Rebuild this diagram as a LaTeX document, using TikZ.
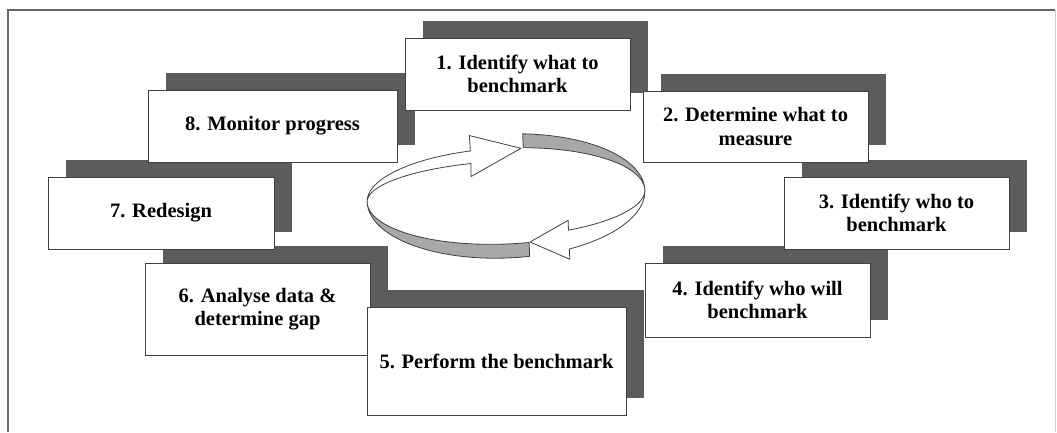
\documentclass[tikz,border=0pt]{standalone}
\usepackage{fontspec}
\setmainfont{Liberation Serif}
\usetikzlibrary{shadows}
\definecolor{shadowgray}{gray}{0.36}
\definecolor{bandgray}{gray}{0.66}
\definecolor{linegray}{gray}{0.25}
\begin{document}
\begin{tikzpicture}[x=1pt,y=-1pt,
  stepbox/.style={draw=linegray, line width=0.9pt, fill=white, align=center,
    inner sep=0pt, font=\fontsize{20.5}{23.5}\selectfont\bfseries,
    drop shadow={shadow xshift=18pt, shadow yshift=17pt, fill=shadowgray, opacity=1}},
  ringwhite/.style={draw=linegray, line width=0.8pt, line join=round, fill=white},
  ringgray/.style={draw=linegray, line width=0.8pt, line join=round, fill=bandgray}]
\useasboundingbox (0,0) rectangle (1057,432);
% frame
\draw[black!60, line width=1.3pt] (8,432) -- (8,10) -- (1055,10);
\draw[black!20, line width=1pt] (1055,10) -- (1055,432);
% boxes
\node[stepbox, minimum width=225pt, minimum height=92pt] (s6) at (257.5,309) {6. Analyse data \&\\determine gap};
\node[stepbox, minimum width=259pt, minimum height=108pt] (s5) at (496.5,361) {5. Perform the benchmark};
\node[stepbox, minimum width=226pt, minimum height=72pt] (s7) at (161,213) {7. Redesign};
\node[stepbox, minimum width=249pt, minimum height=72pt] (s8) at (272.5,126) {8. Monitor progress};
\node[stepbox, minimum width=225pt, minimum height=72pt] (s1) at (517.5,74) {1. Identify what to\\benchmark};
\node[stepbox, minimum width=225pt, minimum height=74pt] (s4) at (757.5,300) {4. Identify who will\\benchmark};
\node[stepbox, minimum width=225pt, minimum height=72pt] (s3) at (896.5,213) {3. Identify who to\\benchmark};
\node[stepbox, minimum width=225pt, minimum height=71pt] (s2) at (755.5,126.5) {2. Determine what to\\measure};
% cycle ring
\begin{scope}[shift={(506,196)}, rotate=2.5]
  \filldraw[ringwhite] (-139,0)
    -- plot[domain=180:256, samples=40] ({139*cos(\x)},{48*sin(\x)})
    -- (-34,-62) -- (17,-47) -- (-34,-21)
    -- plot[domain=256:180, samples=40] ({139*cos(\x)},{35*sin(\x)}) -- cycle;
  \filldraw[ringgray]
    plot[domain=278:360, samples=40] ({139*cos(\x)},{62*sin(\x)})
    -- plot[domain=360:278, samples=40] ({139*cos(\x)},{48*sin(\x)}) -- cycle;
  \filldraw[ringwhite] (139,0)
    -- plot[domain=0:64, samples=40] ({139*cos(\x)},{41*sin(\x)})
    -- (61,27) -- (22,47) -- (61,66)
    -- plot[domain=64:0, samples=40] ({139*cos(\x)},{62*sin(\x)}) -- cycle;
  \filldraw[ringgray]
    plot[domain=81.3:180, samples=40] ({139*cos(\x)},{62*sin(\x)})
    -- plot[domain=180:81.3, samples=40] ({139*cos(\x)},{48*sin(\x)}) -- cycle;
\end{scope}
\end{tikzpicture}
\end{document}
